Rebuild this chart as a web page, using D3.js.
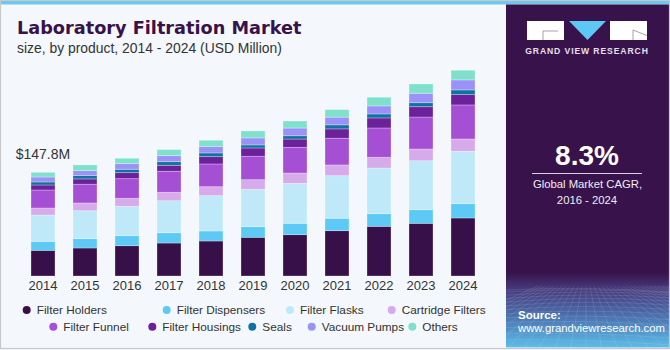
<!DOCTYPE html>
<html>
<head>
<meta charset="utf-8">
<script src="https://cdn.jsdelivr.net/npm/d3@7/dist/d3.min.js"></script>
<style>
  html, body { margin: 0; padding: 0; background: #f4f8fc; }
  svg { display: block; }
</style>
</head>
<body>
<script>
// ---- data (USD Million) ----
const years = ["2014","2015","2016","2017","2018","2019","2020","2021","2022","2023","2024"];
const seriesNames = ["Filter Holders","Filter Dispensers","Filter Flasks","Cartridge Filters","Filter Funnel","Filter Housings","Seals","Vacuum Pumps","Others"];
const filterHolders    = [36.6, 39.9, 43.2, 47.0, 49.9, 55.2, 58.9, 64.6, 70.8, 75.1, 82.7];
const filterDispensers = [12.8, 13.3, 14.3, 14.7, 14.3, 15.1, 16.2, 17.7, 18.0, 19.4, 20.4];
const filterFlasks     = [37.5, 39.9, 41.9, 45.6, 50.3, 53.3, 57.0, 60.7, 65.1, 69.8, 74.7];
const cartridgeFilters = [10.0, 11.0, 11.4, 12.0, 12.8, 13.7, 14.7, 15.3, 15.3, 16.7, 17.5];
const filterFunnel     = [25.7, 26.7, 27.9, 29.9, 32.4, 33.4, 36.6, 38.1, 41.8, 45.6, 48.5];
const filterHousings   = [7.1, 7.6, 8.6, 8.6, 10.4, 11.8, 11.8, 13.3, 14.3, 14.7, 14.7];
const seals            = [4.3, 4.7, 4.8, 5.1, 5.3, 4.3, 4.7, 5.7, 5.7, 5.7, 6.7];
const vacuumPumps      = [7.1, 7.1, 8.0, 8.6, 9.0, 10.0, 11.0, 11.0, 11.4, 13.4, 14.3];
const others           = [6.7, 8.1, 7.7, 8.6, 9.1, 10.0, 10.0, 10.8, 12.4, 13.3, 13.8];
const colors = ["#37104a","#5ccaf5","#bfe9f9","#d6aaeb","#a54fd5","#6c209a","#10729f","#9b92f8","#7fe1cc"];
const firstLabel = "$147.8M";

const seriesValues = [filterHolders, filterDispensers, filterFlasks, cartridgeFilters, filterFunnel, filterHousings, seals, vacuumPumps, others];
const rows = years.map((y, i) => {
  const r = { year: y };
  seriesNames.forEach((n, k) => r[n] = seriesValues[k][i]);
  return r;
});

const W = 670, H = 350;
const svg = d3.select("body").append("svg").attr("width", W).attr("height", H);
const defs = svg.append("defs");

// background
svg.append("rect").attr("x", 0).attr("y", 0).attr("width", W).attr("height", H).attr("fill", "#f4f8fc");
svg.append("rect").attr("x", 0).attr("y", 0).attr("width", W).attr("height", 4.5).attr("fill", "#6cc8ef");

// right panel
const grad = defs.append("linearGradient").attr("id", "pg").attr("x1", 0).attr("y1", 0).attr("x2", 0).attr("y2", 1);
[[0, "#38124a"], [0.78, "#38124a"], [0.83, "#463a7c"], [0.9, "#4a6aa8"], [1, "#5cbde8"]].forEach(([o, c]) =>
  grad.append("stop").attr("offset", o).attr("stop-color", c));
const px0 = 506, py0 = 4.5, pw = 163, ph = 343;
svg.append("rect").attr("x", px0).attr("y", py0).attr("width", pw).attr("height", ph).attr("fill", "url(#pg)");

// decorative perspective grid at bottom of panel
const gridG = svg.append("g").attr("stroke", "#ffffff").attr("stroke-opacity", 0.16).attr("stroke-width", 0.7).attr("fill", "none");
defs.append("clipPath").attr("id", "pc").append("rect").attr("x", px0).attr("y", 280).attr("width", pw).attr("height", ph - 276 + 4.5);
gridG.attr("clip-path", "url(#pc)");
for (let k = 0; k < 14; k++) {
  const t = k / 13;
  const y = 290 + Math.pow(t, 1.6) * 60;
  gridG.append("path").attr("d", `M${px0},${y + 3 * Math.sin(t * 5)} Q${px0 + 80},${y - 4} ${px0 + pw},${y + 2}`);
}
for (let k = -12; k <= 24; k++) {
  const xt = px0 + 80 + k * 4;
  const xb = px0 + 80 + k * 16;
  gridG.append("line").attr("x1", xt).attr("y1", 286).attr("x2", xb).attr("y2", 350);
}

// logo
const lg = svg.append("g");
lg.append("rect").attr("x", 527).attr("y", 21).attr("width", 37).attr("height", 19).attr("fill", "#ffffff");
lg.append("path").attr("d", "M543,40 L543,31 L558,31").attr("stroke", "#8a8a9a").attr("stroke-width", 0.8).attr("fill", "none");
lg.append("path").attr("d", "M569,21 L606,21 L587.5,40 Z").attr("fill", "#5ec8f4");
lg.append("rect").attr("x", 610).attr("y", 21).attr("width", 37).attr("height", 19).attr("fill", "#ffffff");
lg.append("path").attr("d", "M633,30 L647,35.5 M633,30 L633,40").attr("stroke", "#8a8a9a").attr("stroke-width", 0.8).attr("fill", "none");
lg.append("text").attr("x", 587).attr("y", 53.7).attr("text-anchor", "middle")
  .attr("font-family", "'Liberation Sans', Arial, sans-serif").attr("font-weight", "bold")
  .attr("font-size", 8.6).attr("letter-spacing", 0.9).attr("fill", "#e6e0ee").text("GRAND VIEW RESEARCH");

// CAGR
svg.append("text").attr("x", 587).attr("y", 165).attr("text-anchor", "middle")
  .attr("font-family", "'Liberation Sans', Arial, sans-serif").attr("font-weight", "bold")
  .attr("font-size", 28).attr("fill", "#ffffff").text("8.3%");
svg.append("line").attr("x1", 532).attr("x2", 642).attr("y1", 173.5).attr("y2", 173.5)
  .attr("stroke", "#d8d0e0").attr("stroke-width", 1);
svg.append("text").attr("x", 587.5).attr("y", 188.3).attr("text-anchor", "middle")
  .attr("font-family", "'Liberation Sans', Arial, sans-serif").attr("font-size", 11.3).attr("fill", "#f0ecf4").text("Global Market CAGR,");
svg.append("text").attr("x", 587).attr("y", 204).attr("text-anchor", "middle")
  .attr("font-family", "'Liberation Sans', Arial, sans-serif").attr("font-size", 11.3).attr("fill", "#f0ecf4").text("2016 - 2024");

// source
svg.append("text").attr("x", 518).attr("y", 319).attr("font-family", "'Liberation Sans', Arial, sans-serif")
  .attr("font-weight", "bold").attr("font-size", 11.5).attr("fill", "#ffffff").text("Source:");
svg.append("text").attr("x", 518).attr("y", 332).attr("font-family", "'Liberation Sans', Arial, sans-serif")
  .attr("font-size", 11.3).attr("fill", "#ffffff").text("www.grandviewresearch.com");

// title
svg.append("text").attr("x", 17).attr("y", 34.3).attr("font-family", "'DejaVu Sans', sans-serif")
  .attr("font-weight", "bold").attr("font-size", 17.7).attr("fill", "#38124a").text("Laboratory Filtration Market");
svg.append("text").attr("x", 17).attr("y", 53.3).attr("font-family", "'Liberation Sans', Arial, sans-serif")
  .attr("font-size", 13.9).attr("fill", "#333333").text("size, by product, 2014 - 2024 (USD Million)");

// scales
const x = d3.scaleBand().domain(years).range([22, 484]).paddingInner(0.4286).paddingOuter(0.2143);
const y = d3.scaleLinear().domain([0, 147.8]).range([276, 172.3]);

const stack = d3.stack().keys(seriesNames)(rows);
const color = d3.scaleOrdinal().domain(seriesNames).range(colors);

svg.append("g").selectAll("g").data(stack).join("g")
  .attr("fill", d => color(d.key))
  .selectAll("rect").data(d => d).join("rect")
  .attr("x", d => x(d.data.year))
  .attr("width", x.bandwidth())
  .attr("y", d => y(d[1]))
  .attr("height", d => y(d[0]) - y(d[1]))
  .attr("stroke", "#ffffff").attr("stroke-opacity", 0.35).attr("stroke-width", 0.8);

// x axis labels
const xAxis = d3.axisBottom(x).tickSize(0).tickPadding(0);
const ax = svg.append("g").attr("transform", "translate(0,281)").call(xAxis);
ax.select(".domain").remove();
ax.selectAll("text").attr("font-family", "'Liberation Sans', Arial, sans-serif").attr("font-size", 13)
  .attr("fill", "#333333").attr("dy", "0.71em");

// first bar label
svg.append("text").attr("x", 15.7).attr("y", 159.3).attr("font-family", "'Liberation Sans', Arial, sans-serif")
  .attr("font-size", 14).attr("fill", "#333333").text(firstLabel);

// legend
const legendPos = [
  [26.7, 314.3], [166.7, 314.3], [290, 314.3], [391.7, 314.3],
  [53.3, 331], [152.3, 331], [252.3, 331], [311.7, 331], [412.3, 331]
];
const leg = svg.append("g");
seriesNames.forEach((n, i) => {
  const [cx, by] = legendPos[i];
  leg.append("circle").attr("cx", cx).attr("cy", by - 4.2).attr("r", 4).attr("fill", color(n));
  leg.append("text").attr("x", cx + 10).attr("y", by).attr("font-family", "'Liberation Sans', Arial, sans-serif")
    .attr("font-size", 11.8).attr("fill", "#333333").text(n);
});

// frame
svg.append("rect").attr("x", 0.5).attr("y", 0.5).attr("width", W - 1).attr("height", H - 2)
  .attr("fill", "none").attr("stroke", "#c8c8c8").attr("stroke-width", 1.2);
</script>
</body>
</html>
